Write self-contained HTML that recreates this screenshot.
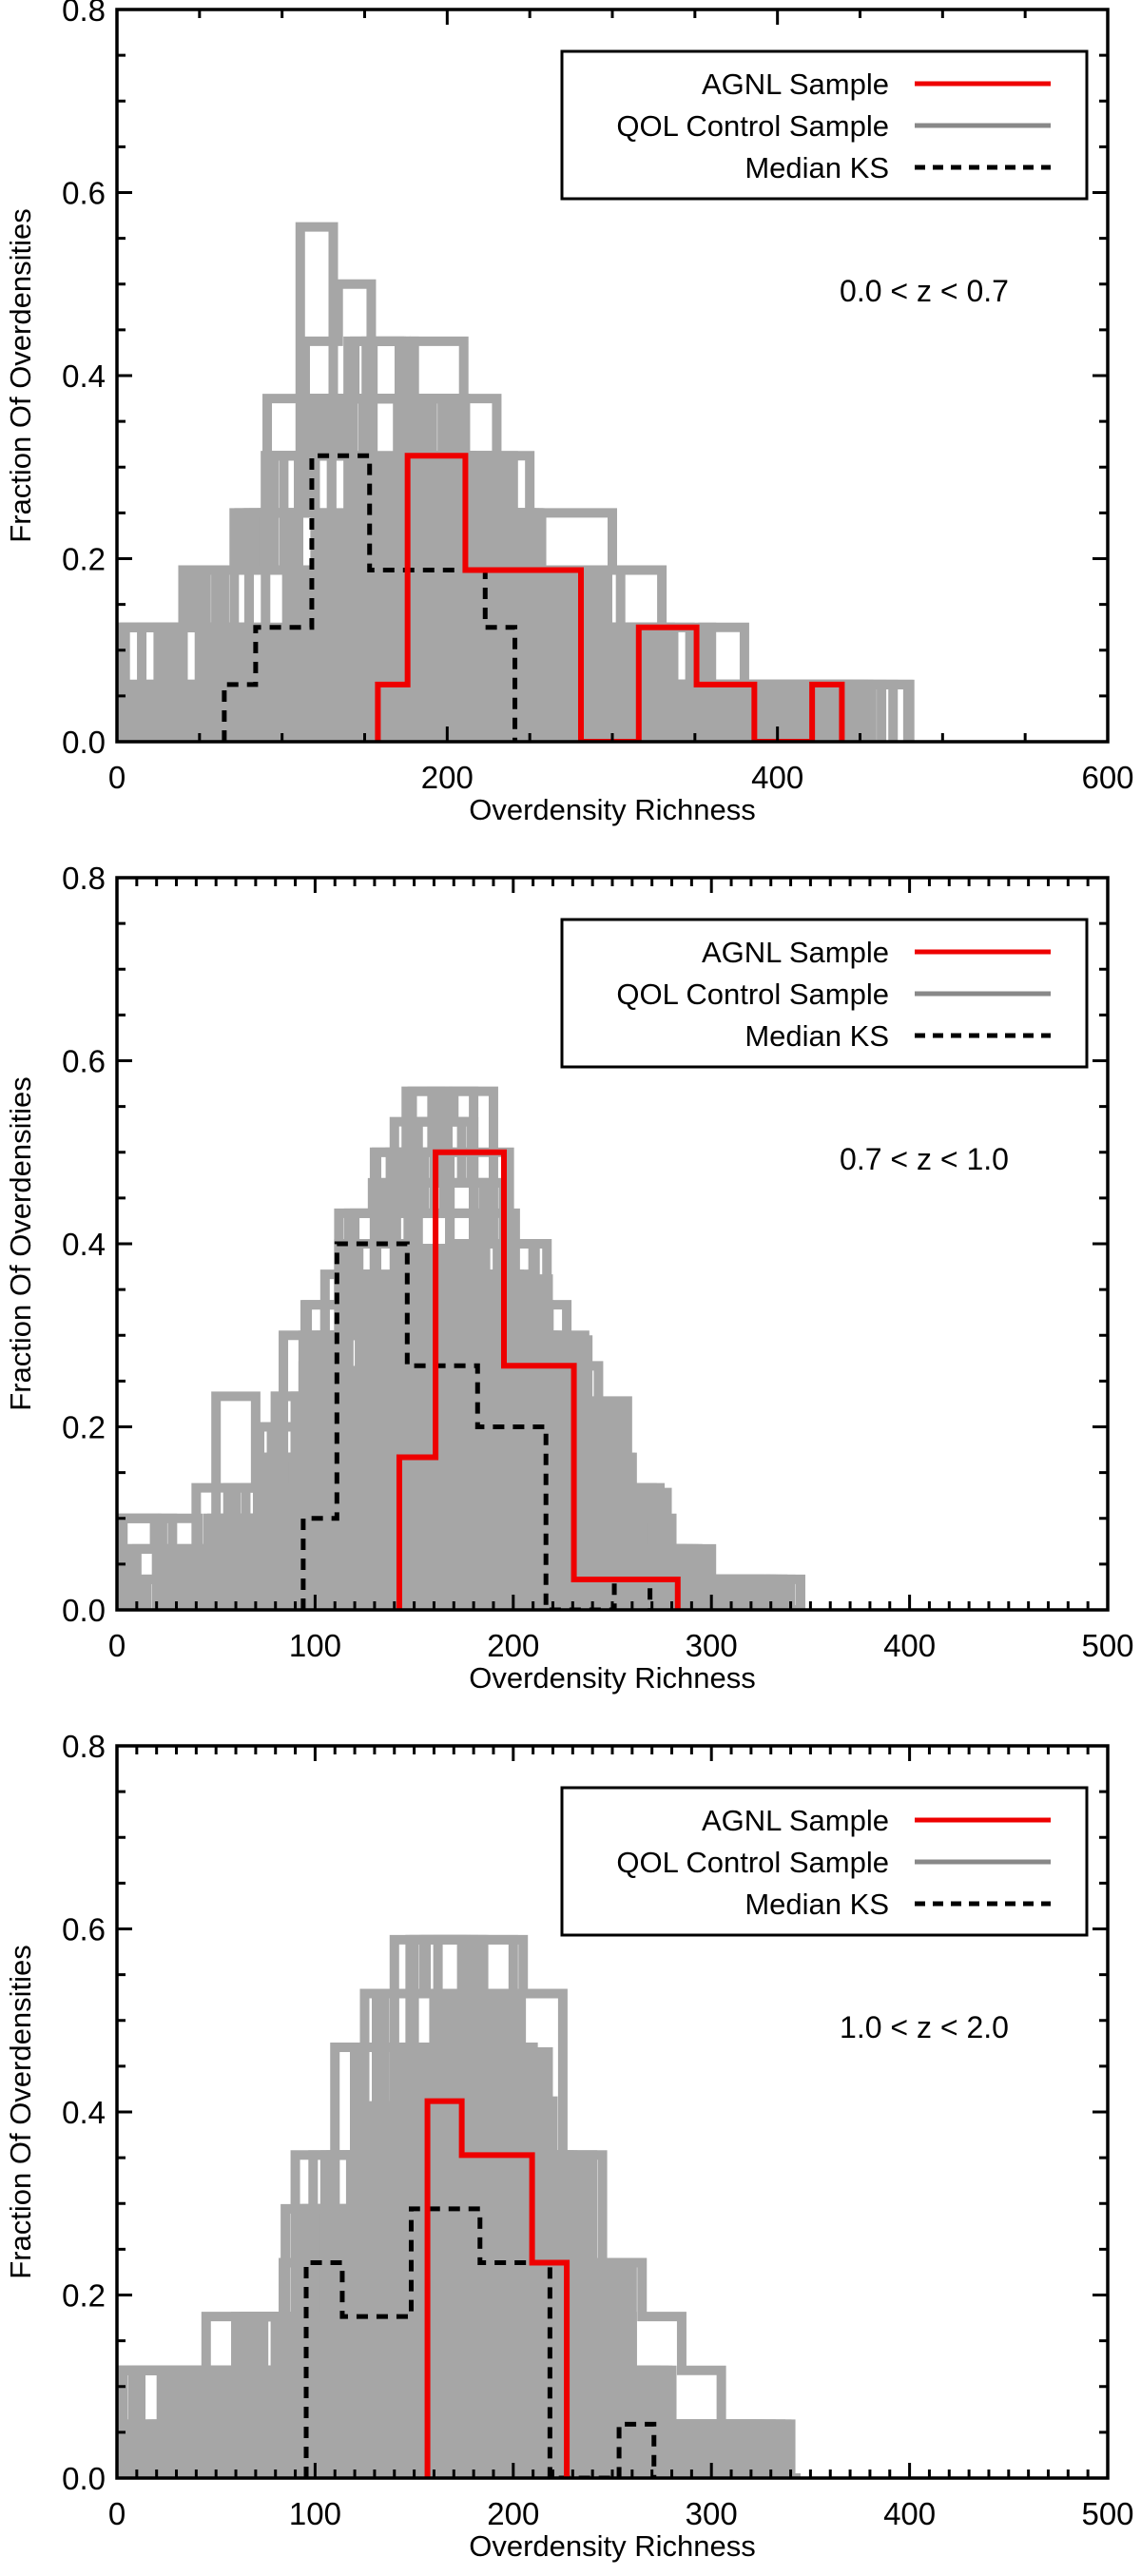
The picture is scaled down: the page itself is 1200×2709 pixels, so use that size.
<!DOCTYPE html>
<html><head><meta charset="utf-8"><style>
html,body{margin:0;padding:0;background:#fff;}
svg{display:block;font-family:"Liberation Sans",sans-serif;}
</style></head><body>
<svg id="chart" width="1200" height="2709" viewBox="0 0 1200 2709" xmlns="http://www.w3.org/2000/svg"></svg>
<script>
// ---------- Panel data (x in richness units, y as fraction) ----------
const p1Title = "0.0 < z < 0.7";
const p1XMax = 600;
const p1XTicks = [0, 200, 400, 600];
const p1Minor = 50;
const p1RedEdges = [158, 176, 211, 281, 316, 351, 386, 421, 439];
const p1RedVals = [0.0625, 0.3125, 0.1875, 0, 0.125, 0.0625, 0, 0.0625];
const p1KsEdges = [65, 84, 118, 153, 223, 241];
const p1KsVals = [0.0625, 0.125, 0.3125, 0.1875, 0.125];
const p1GrayN = 16;
const p1Core = [20, 20, [1,1,2,2,3,4,5,5,5,5,5,4,3,3,2,2,1,1,1,1,1,1]];
const p1Gray = [
  [0, 35, [2,1,2,4,7,6,4,3,2,1,1,1,1]],
  [10, 40, [1,2,3,6,5,5,3,2,1,1,1]],
  [71, 20, [4,6,9,5,7,4,6,3,4,2,3,1]],
  [54, 20, [3,4,5,7,8,6,5,4,3,2,3,1,1]],
  [0, 30, [2,2,3,3,5,6,7,5,4,4,3,2,1,1,1,1]],
  [20, 45, [1,3,5,6,4,3,2,1,1,1]],
  [5, 25, [2,1,2,3,4,6,7,5,6,4,3,3,2,1,2,1,1,1]],
  [40, 50, [3,5,6,4,2,1,1,1]],
  [60, 28, [3,4,6,7,6,5,4,3,2,1,1,1,1,1]],
  [0, 40, [1,2,4,6,6,4,3,2,1,1,1,1]],
  [15, 32, [2,3,4,6,6,5,4,3,2,2,1,1,1,1]],
  [25, 38, [2,3,5,6,5,4,3,2,1,1,1]],
  [8, 27, [1,2,3,4,5,6,6,5,4,3,2,2,1,1,1,1]],
  [35, 30, [2,3,5,6,6,5,4,3,2,1,1,1,1,1]],
  [0, 45, [2,3,5,6,4,3,2,1,1,1]],
  [50, 33, [3,4,6,5,5,4,3,2,2,1,1,1,1]]
];

const p2Title = "0.7 < z < 1.0";
const p2XMax = 500;
const p2XTicks = [0, 100, 200, 300, 400, 500];
const p2Minor = 10;
const p2RedEdges = [142.5, 160.8, 195.3, 230.6, 283];
const p2RedVals = [0.1667, 0.5, 0.2667, 0.0333];
const p2KsEdges = [94, 111, 146.5, 182, 216.5, 251, 269];
const p2KsVals = [0.1, 0.4, 0.2667, 0.2, 0, 0.0333];
const p2GrayN = 30;
const p2Core = [20, 20, [2,2,3,5,8,11,12,12,11,11,9,7,4,2,1,1]];
const p2Gray = [
  [0, 20, [3,1,2,4,7,9,11,13,14,12,9,6,5,3,2,1,1]],
  [5, 18, [2,3,1,2,4,8,12,15,17,14,11,9,6,4,3,2,1,1,0]],
  [20, 22, [1,2,2,5,9,12,16,14,10,6,4,2,1,1]],
  [10, 17, [2,1,2,3,6,10,13,14,17,16,12,9,7,4,3,2,1,1,1]],
  [30, 25, [1,2,7,11,15,13,9,5,3,2,1,1]],
  [50, 20, [7,4,6,9,12,16,17,12,8,6,4,2,1,1]],
  [0, 28, [3,1,4,9,12,14,10,6,4,2,1,1]],
  [15, 15, [1,2,2,3,4,7,10,12,14,13,15,12,10,8,6,4,3,2,1,1,0,1]],
  [8, 19, [2,1,3,4,6,9,12,14,16,15,12,9,6,4,2,1,1]],
  [12, 21, [1,2,3,5,8,12,15,17,13,9,6,3,2,1,1]],
  [3, 16, [3,2,1,2,3,5,7,10,12,14,15,14,12,10,8,5,3,2,1,1]],
  [25, 23, [1,2,5,9,13,16,14,11,7,4,2,1,1]],
  [40, 18, [4,3,5,8,11,14,16,13,10,8,5,3,2,1,1,1]],
  [0, 24, [2,2,3,6,10,13,15,12,8,5,3,2,1,1]]
];

const p3Title = "1.0 < z < 2.0";
const p3XMax = 500;
const p3XTicks = [0, 100, 200, 300, 400, 500];
const p3Minor = 10;
const p3RedEdges = [156.7, 174, 209.5, 227];
const p3RedVals = [0.4118, 0.3529, 0.2353];
const p3KsEdges = [95.5, 113.7, 148.5, 183.2, 218.5, 253.4, 271];
const p3KsVals = [0.2353, 0.1765, 0.2941, 0.2353, 0, 0.0588];
const p3GrayN = 17;
const p3Core = [20, 20, [2,2,2,3,5,7,8,9,9,8,6,4,2,1,1,1]];
const p3Gray = [
  [0, 35, [2,2,3,6,10,6,3,1,1]],
  [5, 30, [1,2,3,5,9,10,5,2,1,0,1]],
  [10, 25, [2,1,2,5,8,9,9,5,3,2,1,0,1]],
  [15, 40, [1,2,5,8,6,2,1,0]],
  [0, 20, [2,2,1,2,3,5,6,8,9,10,7,6,4,2,1,1,1]],
  [20, 30, [1,2,3,6,8,9,6,3,1,1]],
  [30, 22, [1,2,3,4,6,9,10,8,5,3,2,1,1,1]],
  [0, 45, [1,3,6,8,3,1,1]],
  [8, 28, [2,1,3,5,8,10,8,4,2,1,1]],
  [12, 24, [2,2,2,4,6,9,10,9,6,4,2,1,1]],
  [3, 32, [2,2,3,6,9,9,5,2,1,1]],
  [18, 26, [1,2,3,5,8,10,9,6,3,2,1,1]],
  [0, 30, [2,2,3,5,8,10,8,4,2,1,1]],
  [25, 20, [2,2,2,3,4,6,8,9,10,9,6,4,3,2,1,0]]
];

const yTicks = [0.0, 0.2, 0.4, 0.6, 0.8];
const yMax = 0.8;

// ---------- Drawing ----------
const NS = "http://www.w3.org/2000/svg";
const svg = document.getElementById("chart");
function mk(tag, attrs, parent){
  const e = document.createElementNS(NS, tag);
  for (const k in attrs) e.setAttribute(k, attrs[k]);
  (parent || svg).appendChild(e);
  return e;
}
const L = 123, R = 1165;

function stepPath(edges, vals, sx, sy){
  let d = "M" + sx(edges[0]) + "," + sy(0);
  for (let i = 0; i < vals.length; i++){
    d += " L" + sx(edges[i]) + "," + sy(vals[i]);
    d += " L" + sx(edges[i+1]) + "," + sy(vals[i]);
  }
  d += " L" + sx(edges[vals.length]) + "," + sy(0);
  return d;
}
function seriesEdges(start, w, n){
  const edges = [];
  for (let i = 0; i <= n; i++) edges.push(start + i * w);
  return edges;
}

function drawPanel(idx, top, xMax, xTicks, minor, core, gray, grayN, redE, redV, ksE, ksV, title){
  const bottom = top + 770;
  const g = mk("g", {});
  
  
  const sx = v => L + (v / xMax) * (R - L);
  const sy = v => bottom - (v / yMax) * 770;
  const clipId = "clip" + idx;
  const cp = mk("clipPath", {id: clipId}, g);
  mk("rect", {x: L, y: top, width: R - L, height: 770}, cp);
  const plot = mk("g", {"clip-path": "url(#" + clipId + ")"}, g);

  const coreVals = core[2].map(k => k / grayN);
  const cf = mk("path", {d: stepPath(seriesEdges(core[0], core[1], coreVals.length), coreVals, sx, sy) + " Z", fill: "#a6a6a6", stroke: "none"}, plot);
  
  

  gray.forEach((s, j) => {
    const vals = s[2].map(k => k / grayN);
    const p = mk("path", {d: stepPath(seriesEdges(s[0], s[1], vals.length), vals, sx, sy), fill: "none", stroke: "#a6a6a6", "stroke-width": 10, "stroke-linejoin": "miter"}, plot);
    
    
  });
  const ks = mk("path", {d: stepPath(ksE, ksV, sx, sy), fill: "none", stroke: "#000", "stroke-width": 5, "stroke-dasharray": "12,9"}, plot);
  
  
  const red = mk("path", {d: stepPath(redE, redV, sx, sy), fill: "none", stroke: "#ee0000", "stroke-width": 6}, plot);
  
  

  const fr = mk("rect", {x: L, y: top, width: R - L, height: 770, fill: "none", stroke: "#000", "stroke-width": 3.5}, g);
  
  
  for (let v = 0; v <= xMax + 1e-9; v += minor){
    const isMaj = xTicks.indexOf(Math.round(v)) >= 0;
    const len = isMaj ? 16 : 9;
    const x = sx(v);
    mk("line", {x1: x, x2: x, y1: bottom, y2: bottom - len, stroke: "#000", "stroke-width": 3}, g);
    mk("line", {x1: x, x2: x, y1: top, y2: top + len, stroke: "#000", "stroke-width": 3}, g);
  }
  xTicks.forEach(v => {
    const t = mk("text", {x: sx(v), y: bottom + 49, "font-size": 33, "text-anchor": "middle"}, g);
    t.textContent = String(v);
    
    
  });
  for (let v = 0; v <= yMax + 1e-9; v += 0.05){
    const isMaj = Math.abs(v / 0.2 - Math.round(v / 0.2)) < 1e-6;
    const len = isMaj ? 16 : 9;
    const y = sy(v);
    mk("line", {x1: L, x2: L + len, y1: y, y2: y, stroke: "#000", "stroke-width": 3}, g);
    mk("line", {x1: R, x2: R - len, y1: y, y2: y, stroke: "#000", "stroke-width": 3}, g);
  }
  yTicks.forEach(v => {
    const t = mk("text", {x: 111, y: sy(v) + 12, "font-size": 33, "text-anchor": "end"}, g);
    t.textContent = v.toFixed(1);
    
    
  });
  const xt = mk("text", {x: (L + R) / 2, y: bottom + 82, "font-size": 31, "text-anchor": "middle"}, g);
  xt.textContent = "Overdensity Richness";
  
  
  const yc = (top + bottom) / 2;
  const yt = mk("text", {x: 32, y: yc, "font-size": 31, "text-anchor": "middle", transform: "rotate(-90 32 " + yc + ")"}, g);
  yt.textContent = "Fraction Of Overdensities";
  
  

  const lg = mk("g", {}, g);
  
  
  mk("rect", {x: 591, y: top + 44, width: 552, height: 155, fill: "#fff", stroke: "#000", "stroke-width": 3}, lg);
  const entries = [["AGNL Sample", "#ee0000", null], ["QOL Control Sample", "#888888", null], ["Median KS", "#000", "11,8"]];
  entries.forEach((e, i) => {
    const y = top + 78 + i * 44;
    const t = mk("text", {x: 935, y: y + 11, "font-size": 31, "text-anchor": "end"}, lg);
    t.textContent = e[0];
    
    
    const a = {x1: 962, x2: 1105, y1: y, y2: y, stroke: e[1], "stroke-width": 5};
    if (e[2]) a["stroke-dasharray"] = e[2];
    const ln = mk("line", a, lg);
    
    
  });
  const an = mk("text", {x: 972, y: top + 307, "font-size": 32, "text-anchor": "middle"}, g);
  an.textContent = title;
  
  
}

drawPanel(1, 10, p1XMax, p1XTicks, p1Minor, p1Core, p1Gray, p1GrayN, p1RedEdges, p1RedVals, p1KsEdges, p1KsVals, p1Title);
drawPanel(2, 923, p2XMax, p2XTicks, p2Minor, p2Core, p2Gray, p2GrayN, p2RedEdges, p2RedVals, p2KsEdges, p2KsVals, p2Title);
drawPanel(3, 1836, p3XMax, p3XTicks, p3Minor, p3Core, p3Gray, p3GrayN, p3RedEdges, p3RedVals, p3KsEdges, p3KsVals, p3Title);
</script>
</body></html>
